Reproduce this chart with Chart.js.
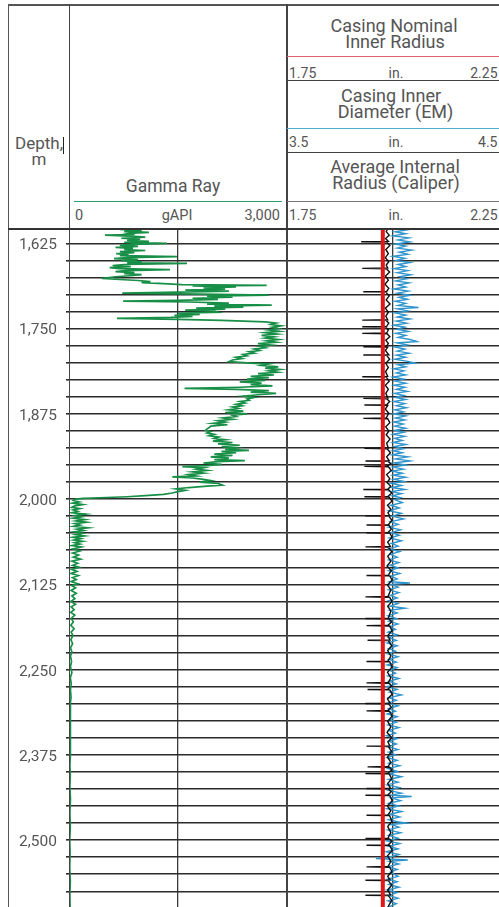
<!DOCTYPE html>
<html>
<head>
<meta charset="utf-8">
<script src="https://cdn.jsdelivr.net/npm/chart.js@4.4.1/dist/chart.umd.min.js"></script>
<style>
  html, body { margin: 0; padding: 0; background: #fff; }
  body { width: 499px; height: 907px; overflow: hidden; position: relative;
         font-family: Roboto, "Liberation Sans", sans-serif; color: #555; }
  .t { position: absolute; white-space: nowrap; line-height: 1; }
  .ln { position: absolute; }
  canvas { position: absolute; display: block; }
</style>
</head>
<body>
<canvas id="gamma" width="279" height="679" style="left:8px;top:228px;"></canvas>
<canvas id="casing" width="212" height="679" style="left:287px;top:228px;"></canvas>
<div id="header"></div>

<script>
// Depth window of the log (m)
const depthTop = 1602.5;
const depthBottom = 2598;
const depthLabels = [1625, 1750, 1875, 2000, 2125, 2250, 2375, 2500];
const depthStep = 25;

// Gamma ray, [depth m, gAPI]
const gammaRay = [
  [1602, 820], [1603, 1150], [1604.5, 700], [1606, 1000], [1607.5, 760], [1609, 1100], [1610.5, 820],
  [1612, 900], [1613, 495], [1614.5, 850], [1616, 1050], [1617.5, 720], [1619, 980], [1620.5, 800],
  [1622, 1100], [1623.5, 760], [1625, 1348], [1626.5, 880], [1628, 700], [1629.5, 950], [1631, 640],
  [1632.5, 880], [1634, 760], [1635.5, 1050], [1637, 700], [1638.5, 900], [1640, 650], [1641.5, 820],
  [1643, 700], [1644.5, 1486], [1646, 800], [1647.5, 620], [1649, 950], [1650.5, 720], [1652, 1000],
  [1653.5, 800], [1654.5, 1624], [1656, 760], [1657.5, 600], [1659, 850], [1660.5, 560], [1662, 700],
  [1663.5, 1390], [1665, 780], [1666.5, 640], [1668, 900], [1669.5, 760], [1671, 1000], [1672.5, 840],
  [1674, 640], [1675.5, 520], [1676.5, 454], [1678, 700], [1679.5, 950], [1681, 1120], [1682.5, 1000],
  [1684, 1300], [1685.5, 1550], [1686.5, 2720], [1687.5, 1700], [1689, 2300], [1690.5, 1850], [1692, 2150],
  [1693.5, 1600], [1695, 2200], [1696.5, 1500], [1698, 733], [1699.5, 1800], [1701, 2750], [1702.5, 1900],
  [1704, 2250], [1705.5, 1700], [1707, 2050], [1708.5, 1500], [1709.6, 745], [1711, 1650], [1712.5, 2200],
  [1714, 1900], [1715.5, 2790], [1717, 2000], [1718.5, 2400], [1720, 1750], [1721.5, 2150], [1723, 1600],
  [1724.5, 2000], [1726, 2050], [1727.5, 1500], [1729, 1800], [1730.5, 1450], [1732, 1700], [1733.5, 1400],
  [1735, 660], [1736.5, 1500], [1738, 2100], [1740, 2700], [1742, 2850], [1744, 2780], [1746, 2920],
  [1748, 2800], [1750, 2880], [1752, 2750], [1754, 2900], [1756, 2700], [1758, 2860], [1760, 2650],
  [1762, 2820], [1764, 2700], [1766, 2880], [1768, 2720], [1770, 2850], [1772, 2600], [1774, 2780],
  [1776, 2620], [1778, 2700], [1780, 2550], [1782, 2620], [1784, 2480], [1786, 2550], [1788, 2400],
  [1790, 2450], [1792, 2300], [1794, 2380], [1796, 2250], [1798.5, 2200], [1800.5, 2500], [1802, 2750],
  [1804, 2650], [1806, 2880], [1808, 2700], [1810, 2900], [1812, 2750], [1814, 2870], [1816, 2600],
  [1818, 2820], [1820, 2500], [1822, 2750], [1824, 2450], [1826, 2700], [1828, 2350], [1830, 2650],
  [1832, 2500], [1834, 2800], [1836, 2350], [1837.6, 1590], [1839, 2300], [1841, 2750], [1843, 2500],
  [1845, 2850], [1847, 2600], [1849, 2400], [1851, 2550], [1853, 2450], [1855, 2480], [1857, 2350],
  [1859, 2420], [1861, 2300], [1863, 2380], [1865, 2250], [1867, 2330], [1869, 2200], [1871, 2400],
  [1873, 2150], [1875, 2450], [1877, 2250], [1879, 2300], [1881, 2120], [1883, 2250], [1885, 2050],
  [1887, 2150], [1889, 1980], [1891, 2180], [1893, 1950], [1895, 1930], [1897, 1900], [1899, 1880],
  [1901, 1950], [1903, 1900], [1905, 2000], [1907, 1930], [1909, 2060], [1911, 2000], [1913, 2150],
  [1915, 1980], [1917, 2250], [1919, 2050], [1921, 2350], [1923, 2100], [1925, 2300], [1927, 2150],
  [1928.5, 2477], [1930, 2100], [1932, 2300], [1934, 2000], [1936, 2250], [1938, 1950], [1940, 2200],
  [1942, 2000], [1943.5, 2420], [1945, 2050], [1947, 1850], [1949, 2100], [1951, 1900], [1952.5, 1560],
  [1954, 1850], [1956, 1750], [1958, 1900], [1960, 1700], [1962, 1850], [1964, 1650], [1966, 1750],
  [1967.5, 1422], [1969, 1700], [1971, 1850], [1973, 1950], [1975, 1800], [1977, 2050], [1979.5, 2110],
  [1981, 1900], [1983, 1650], [1985, 1470], [1987, 1600], [1989, 1500], [1991, 1420], [1993, 1300],
  [1995, 1050], [1996.5, 800], [1998, 420], [1999, 200], [2000, 90], [2002, 60], [2004, 140],
  [2006, 50], [2008, 190], [2010, 80], [2012, 40], [2014, 150], [2016, 60], [2018, 120], [2020, 40],
  [2022, 230], [2024, 90], [2026, 170], [2028, 60], [2030, 220], [2032, 100], [2034, 240], [2036, 80],
  [2038, 150], [2040, 60], [2042, 260], [2044, 110], [2046, 200], [2048, 70], [2050, 180], [2052, 90],
  [2054, 210], [2056, 50], [2058, 160], [2060, 70], [2062, 190], [2064, 80], [2066, 150], [2068, 40],
  [2070, 170], [2073, 60], [2076, 150], [2079, 50], [2082, 130], [2085, 60], [2088, 160], [2091, 40],
  [2094, 120], [2097, 50], [2100, 140], [2103, 40], [2106, 110], [2109, 30], [2112, 130], [2115, 50],
  [2118, 100], [2121, 30], [2124, 120], [2127, 40], [2130, 90], [2134, 30], [2138, 100], [2142, 40],
  [2146, 80], [2150, 25], [2154, 90], [2158, 30], [2162, 70], [2166, 25], [2170, 80], [2175, 30],
  [2180, 60], [2185, 25], [2190, 70], [2195, 30], [2200, 55], [2206, 25], [2212, 50], [2218, 20],
  [2224, 40], [2230, 20], [2238, 35], [2246, 20], [2254, 40], [2262, 18], [2270, 30], [2280, 20],
  [2290, 28], [2300, 18], [2315, 25], [2330, 15], [2345, 22], [2360, 15], [2375, 20], [2390, 12],
  [2405, 18], [2420, 12], [2440, 20], [2460, 12], [2480, 18], [2500, 10], [2520, 15], [2540, 10],
  [2560, 18], [2580, 12], [2598, 15]
];

// Casing nominal inner radius, [depth m, in.]
const nominalRadius = [[1602, 1.976], [2598, 1.976]];

// Casing inner diameter from EM, [depth m, in.]
const emDiameter = [
  [1602.5, 3.972], [1602.9, 3.855], [1603.4, 3.975], [1608, 3.968], [1613, 3.982], [1618, 3.965],
  [1622.2, 3.978], [1622.7, 3.85], [1623.2, 3.97], [1628, 3.985], [1634, 3.966], [1640, 3.978],
  [1646, 3.964], [1652, 3.98], [1657, 3.968], [1661.2, 3.975], [1661.7, 3.855], [1662.2, 3.968],
  [1667, 3.984], [1673, 3.965], [1679, 3.978], [1685, 3.962], [1691, 3.98], [1695.5, 3.97],
  [1696, 3.86], [1696.5, 3.966], [1702, 3.982], [1708, 3.968], [1714, 3.986], [1720, 3.964],
  [1726, 3.978], [1732, 3.966], [1737, 3.975], [1737.5, 3.855], [1738, 3.968], [1742, 3.98],
  [1746.8, 3.97], [1747.3, 3.855], [1747.8, 3.966], [1752, 3.978], [1756.5, 3.97], [1757, 3.855],
  [1757.5, 3.972], [1762, 3.985], [1767, 3.966], [1772, 3.978], [1776.1, 3.968], [1776.6, 3.86],
  [1777.1, 3.975], [1782, 3.964], [1788.3, 3.98], [1788.8, 3.86], [1789.3, 3.97], [1795, 3.984],
  [1801, 3.966], [1807, 3.978], [1813, 3.965], [1820.1, 3.975], [1820.6, 3.855], [1821.1, 3.968],
  [1827, 3.982], [1833, 3.964], [1839, 3.978], [1845, 3.966], [1851.8, 3.976], [1852.3, 3.86],
  [1852.8, 3.97], [1857, 3.984], [1861.6, 3.97], [1862.1, 3.865], [1862.6, 3.975], [1868, 3.964],
  [1874, 3.98], [1881.1, 3.968], [1881.6, 3.86], [1882.1, 3.975], [1888, 3.985], [1894, 3.966],
  [1900, 3.98], [1906, 3.968], [1912, 3.986], [1918, 3.97], [1925.1, 3.978], [1925.6, 3.865],
  [1926.1, 3.972], [1932, 3.988], [1938, 3.97], [1943.5, 3.982], [1944, 3.87], [1944.5, 3.975],
  [1948, 3.99], [1951.5, 3.972], [1952, 3.865], [1952.5, 3.978], [1958, 3.992], [1964, 3.97],
  [1970, 3.985], [1976, 3.972], [1981, 3.99], [1985.5, 3.975], [1986, 3.86], [1986.5, 3.98],
  [1991, 3.994], [1996.1, 3.976], [1996.6, 3.865], [1997.1, 3.982], [2003, 3.995], [2009, 3.974],
  [2015, 3.99], [2020, 3.976], [2024, 3.984], [2024.5, 3.87], [2025, 3.98], [2031, 3.995],
  [2037.5, 3.978], [2038, 3.875], [2038.5, 3.982], [2044, 3.992], [2048.9, 3.976], [2049.4, 3.875],
  [2049.9, 3.985], [2056, 3.996], [2063, 3.975], [2069.5, 3.988], [2070, 3.87], [2070.5, 3.978],
  [2077, 3.994], [2084, 3.975], [2091, 3.99], [2098, 3.972], [2105, 3.992], [2111.5, 3.978],
  [2112, 3.875], [2112.5, 3.985], [2119, 3.996], [2126, 3.974], [2133, 3.99], [2142.8, 3.976],
  [2143.3, 3.87], [2143.8, 3.984], [2150, 3.995], [2157, 3.975], [2164, 3.99], [2174.5, 3.978],
  [2175, 3.87], [2175.5, 3.982], [2180, 3.994], [2185, 3.976], [2185.5, 3.875], [2186, 3.984],
  [2193, 3.996], [2200, 3.975], [2206.5, 3.986], [2207, 3.88], [2207.5, 3.978], [2215, 3.994],
  [2222, 3.975], [2230, 3.99], [2237.5, 3.976], [2238, 3.875], [2238.5, 3.984], [2246, 3.996],
  [2254, 3.974], [2262, 3.99], [2268.9, 3.978], [2269.4, 3.875], [2269.9, 3.982], [2274, 3.994],
  [2278.6, 3.976], [2279.1, 3.88], [2279.6, 3.985], [2286, 3.996], [2293, 3.974], [2299.1, 3.986],
  [2299.6, 3.87], [2300.1, 3.978], [2305, 3.992], [2310, 3.975], [2310.5, 3.875], [2311, 3.984],
  [2318, 3.996], [2326, 3.975], [2334, 3.99], [2342, 3.972], [2350, 3.994], [2356, 3.976],
  [2361.7, 3.985], [2362.2, 3.875], [2362.7, 3.978], [2370, 3.994], [2378, 3.974], [2386, 3.99],
  [2392.1, 3.976], [2392.6, 3.88], [2393.1, 3.984], [2397, 3.995], [2401.8, 3.976], [2402.3, 3.87],
  [2402.8, 3.982], [2410, 3.994], [2417, 3.975], [2423.8, 3.988], [2424.3, 3.875], [2424.8, 3.978],
  [2429, 3.992], [2433.6, 3.976], [2434.1, 3.87], [2434.6, 3.985], [2442, 3.996], [2450, 3.974],
  [2457, 3.99], [2463, 3.976], [2463.5, 3.875], [2464, 3.984], [2472, 3.995], [2480, 3.975],
  [2489, 3.99], [2497.1, 3.976], [2497.6, 3.87], [2498.1, 3.984], [2502, 3.994], [2506.9, 3.978],
  [2507.4, 3.875], [2507.9, 3.985], [2515, 3.996], [2523, 3.974], [2531, 3.99], [2538.7, 3.976],
  [2539.2, 3.875], [2539.7, 3.984], [2546, 3.995], [2553, 3.975], [2558.3, 3.986], [2558.8, 3.87],
  [2559.3, 3.978], [2566, 3.994], [2573, 3.975], [2580.3, 3.988], [2580.8, 3.87], [2581.3, 3.978],
  [2588, 3.994], [2598, 3.976]
];

// Average internal radius from the caliper, [depth m, in.]
const caliperRadius = [
  [1602, 2.01], [1605, 2.035], [1608, 2.005], [1611, 2.03], [1614, 2.0], [1617, 2.038], [1620, 2.012],
  [1623, 2.04], [1626, 2.005], [1629, 2.03], [1632, 2.01], [1635, 2.044], [1638, 2.015], [1641, 2.035],
  [1644, 2.0], [1647, 2.028], [1650, 2.008], [1653, 2.04], [1656, 2.012], [1659, 2.03], [1662, 2.003],
  [1665, 2.035], [1668, 2.01], [1671, 2.042], [1674, 2.016], [1677, 2.032], [1680, 2.006], [1683, 2.038],
  [1686, 2.012], [1689, 2.03], [1692, 2.002], [1695, 2.036], [1698, 2.01], [1701, 2.04], [1704, 2.014],
  [1707, 2.034], [1710, 2.005], [1713, 2.03], [1716, 2.012], [1719, 2.06], [1721, 2.01], [1724, 2.035],
  [1727, 2.005], [1730, 2.03], [1733, 2.01], [1736, 2.04], [1739, 2.008], [1742, 2.032], [1745, 2.002],
  [1748, 2.028], [1751, 2.01], [1754, 2.036], [1757, 2.006], [1760, 2.03], [1763, 2.012], [1766, 2.04],
  [1769, 2.056], [1771, 2.01], [1774, 2.034], [1777, 2.005], [1780, 2.028], [1783, 2.01], [1786, 2.038],
  [1789, 2.008], [1792, 2.03], [1795, 2.004], [1798, 2.035], [1800.5, 2.052], [1803, 2.012], [1806, 2.03],
  [1809, 2.002], [1812, 2.026], [1815, 2.008], [1818, 2.03], [1821, 2.0], [1824, 2.025], [1827, 2.006],
  [1830, 2.03], [1833, 2.003], [1836, 2.028], [1839, 2.008], [1842, 2.034], [1845, 2.004], [1848, 2.026],
  [1851, 2.006], [1854, 2.03], [1857, 2.002], [1860, 2.028], [1863, 2.008], [1866, 2.032], [1869, 2.004],
  [1872, 2.025], [1875, 2.0], [1878, 2.03], [1881, 2.006], [1884, 2.028], [1887, 2.002], [1890, 2.024],
  [1893, 2.004], [1896, 2.03], [1899, 2.006], [1902, 2.026], [1905, 2.0], [1908, 2.028], [1911, 2.004],
  [1914, 2.022], [1917, 2.0], [1920, 2.03], [1923, 2.004], [1926, 2.025], [1929, 2.0], [1932, 2.022],
  [1935, 1.998], [1938, 2.035], [1941, 2.005], [1944, 2.04], [1947, 2.002], [1950, 2.03], [1953, 2.0],
  [1956, 2.025], [1959, 1.998], [1962, 2.022], [1965, 2.0], [1968, 2.03], [1971, 2.002], [1974, 2.026],
  [1977, 1.996], [1980, 2.02], [1983, 1.998], [1986, 2.028], [1989, 1.995], [1992, 2.02], [1995, 1.998],
  [1998, 2.018], [2001, 2.005], [2005, 2.022], [2009, 1.995], [2013, 2.015], [2017, 1.99], [2021, 2.02],
  [2025, 1.998], [2029, 2.025], [2033, 1.994], [2037, 2.012], [2041, 1.99], [2045, 2.018], [2049, 1.996],
  [2053, 2.015], [2057, 1.992], [2061, 2.02], [2065, 1.996], [2069, 2.012], [2073, 1.99], [2077, 2.016],
  [2081, 1.994], [2085, 2.01], [2089, 1.99], [2093, 2.014], [2097, 1.993], [2101, 2.012], [2105, 1.99],
  [2109, 2.016], [2113, 1.995], [2117, 2.01], [2121, 1.992], [2123, 2.04], [2125, 1.996], [2129, 2.012],
  [2133, 1.99], [2137, 2.014], [2141, 1.994], [2145, 2.01], [2149, 1.99], [2153, 2.012], [2157, 1.994],
  [2160, 2.028], [2163, 1.992], [2167, 2.01], [2171, 1.988], [2175, 2.008], [2179, 1.99], [2183, 2.012],
  [2187, 1.992], [2191, 2.006], [2195, 1.988], [2199, 2.01], [2203, 1.99], [2207, 2.008], [2211, 1.986],
  [2215, 2.01], [2219, 1.99], [2223, 2.006], [2227, 1.988], [2231, 2.012], [2235, 1.99], [2239, 2.008],
  [2243, 1.986], [2247, 2.01], [2251, 1.992], [2255, 2.006], [2259, 1.988], [2263, 2.014], [2267, 1.99],
  [2271, 2.008], [2275, 1.986], [2279, 2.01], [2283, 1.992], [2287, 2.02], [2291, 1.99], [2295, 2.008],
  [2299, 1.988], [2303, 2.012], [2307, 1.99], [2311, 2.006], [2315, 1.986], [2319, 2.01], [2323, 1.992],
  [2327, 2.008], [2331, 1.988], [2335, 2.014], [2339, 1.99], [2343, 2.006], [2347, 1.985], [2351, 2.01],
  [2355, 1.99], [2359, 2.008], [2363, 1.988], [2367, 2.012], [2371, 1.99], [2375, 2.006], [2379, 1.986],
  [2383, 2.01], [2387, 1.99], [2391, 2.016], [2395, 1.988], [2399, 2.01], [2403, 1.992], [2407, 2.02],
  [2411, 1.99], [2415, 2.012], [2419, 1.986], [2423, 2.015], [2427, 1.99], [2431, 2.02], [2434, 1.995],
  [2436, 2.044], [2438, 1.996], [2442, 2.018], [2446, 1.99], [2450, 2.014], [2454, 1.986], [2458, 2.02],
  [2462, 1.992], [2466, 2.016], [2470, 1.99], [2473, 2.01], [2475, 2.032], [2477, 1.994], [2481, 2.014],
  [2485, 1.988], [2489, 2.018], [2493, 1.99], [2497, 2.012], [2501, 1.986], [2505, 2.016], [2509, 1.99],
  [2513, 2.012], [2517, 1.984], [2521, 2.014], [2525, 1.99], [2527, 1.96], [2529, 2.035], [2531, 1.992],
  [2535, 2.014], [2539, 1.986], [2543, 2.01], [2547, 1.994], [2553, 2.012], [2557, 1.988], [2561, 2.01],
  [2565, 1.99], [2569, 2.014], [2573, 1.986], [2577, 2.01], [2581, 1.99], [2585, 2.012], [2589, 1.988],
  [2593, 2.008], [2598, 1.99]
];

// ---- header: titles, units and scale lines ----
const header = document.getElementById('header');
function text(str, x, baseline, size, align) {
  const d = document.createElement('div');
  d.className = 't';
  d.textContent = str;
  d.style.fontSize = size + 'px';
  d.style.top = (baseline - 0.842 * size) + 'px';
  if (align === 'l') d.style.left = x + 'px';
  else if (align === 'r') d.style.right = (499 - x) + 'px';
  else { d.style.left = x + 'px'; d.style.transform = 'translateX(-50%)'; }
  header.appendChild(d);
}
function rule(x, y, w, h, color) {
  const d = document.createElement('div');
  d.className = 'ln';
  Object.assign(d.style, { left: x + 'px', top: y + 'px', width: w + 'px', height: h + 'px', background: color });
  header.appendChild(d);
}

text('Depth,', 39, 149, 17, 'c');
text('m', 39, 165, 17, 'c');
text('Gamma Ray', 173, 192.5, 17.5, 'c');
text('0', 75, 221, 14.5, 'l');
text('gAPI', 177, 221, 14.5, 'c');
text('3,000', 280, 221, 14.5, 'r');

text('Casing Nominal', 394, 31.7, 18, 'c');
text('Inner Radius', 395, 48.3, 18, 'c');
text('1.75', 289, 77.3, 14, 'l');
text('in.', 396, 77.3, 14, 'c');
text('2.25', 497.5, 77.3, 14, 'r');
text('Casing Inner', 391, 101.7, 18, 'c');
text('Diameter (EM)', 395.5, 118.5, 18, 'c');
text('3.5', 289, 146.7, 14, 'l');
text('in.', 396, 146.7, 14, 'c');
text('4.5', 497.5, 146.7, 14, 'r');
text('Average Internal', 395, 173.3, 18, 'c');
text('Radius (Caliper)', 396, 189.5, 18, 'c');
text('1.75', 289, 220, 14, 'l');
text('in.', 396, 220, 14, 'c');
text('2.25', 497.5, 220, 14, 'r');

// frame
rule(8, 4, 491, 1.5, '#555');
rule(7.5, 4, 1.5, 903, '#555');
rule(68.5, 4, 1.5, 903, '#444');
rule(286, 4, 1.5, 903, '#444');
rule(8, 227.5, 491, 2, '#333');
rule(287, 79.5, 212, 1.5, '#444');
rule(287, 151.5, 212, 1.5, '#444');
rule(62.5, 137, 1.3, 17, '#222');
// curve keys
rule(74, 200.5, 208, 1.5, '#2f9f72');
rule(287, 55.5, 212, 1.5, '#e0606b');
rule(287, 127.5, 212, 1.5, '#4aaed0');
rule(287, 200.5, 212, 1.5, '#777');

// ---- shared depth axis ----
const gridDepths = [];
for (let d = depthLabels[0]; d < depthBottom; d += depthStep) gridDepths.push(d);

function depthAxis(withLabels) {
  return {
    type: 'linear', reverse: true, min: depthTop, max: depthBottom,
    afterBuildTicks: s => { s.ticks = gridDepths.map(v => ({ value: v })); },
    afterFit: s => {
      s.width = withLabels ? 61 : 0;
      s.paddingTop = 0; s.paddingBottom = 0;
    },
    ticks: {
      display: withLabels, autoSkip: false, padding: 9, labelOffset: 2,
      color: '#555', font: { family: 'Roboto', size: 15.5 },
      callback: v => depthLabels.includes(v) ? v.toLocaleString('en-US') : ''
    },
    grid: { color: '#2b2b2b', lineWidth: 1.6, tickLength: 3, drawTicks: withLabels },
    border: { display: false }
  };
}
function centreLine(min, max) {
  return {
    type: 'linear', position: 'top', min, max,
    afterBuildTicks: s => { s.ticks = [{ value: (min + max) / 2 }]; },
    afterFit: s => { s.height = 0; s.paddingLeft = 0; s.paddingRight = 0; },
    ticks: { display: false },
    grid: { color: '#3a3a3a', lineWidth: 1.3, drawTicks: false },
    border: { display: false }
  };
}
const pts = arr => arr.map(([d, v]) => ({ x: v, y: d }));
const curve = (data, color, width, axis) => ({
  data: pts(data), xAxisID: axis, yAxisID: 'y', borderColor: color, borderWidth: width,
  showLine: true, pointRadius: 0, fill: false, tension: 0
});
const common = {
  responsive: false, animation: false, events: [],
  layout: { padding: 0, autoPadding: false },
  plugins: { legend: { display: false }, tooltip: { enabled: false } }
};

new Chart(document.getElementById('gamma'), {
  type: 'scatter',
  data: { datasets: [curve(gammaRay, '#178f47', 1.7, 'x')] },
  options: { ...common, scales: { x: centreLine(0, 3000), y: depthAxis(true) } }
});

new Chart(document.getElementById('casing'), {
  type: 'scatter',
  data: {
    datasets: [
      curve(nominalRadius, '#e3161c', 4, 'xNom'),
      curve(emDiameter, '#111111', 1.4, 'xEM'),
      curve(caliperRadius, '#3095cc', 1.4, 'xCal')
    ]
  },
  options: {
    ...common,
    scales: {
      xCal: centreLine(1.75, 2.25),
      xNom: { type: 'linear', display: false, min: 1.75, max: 2.25 },
      xEM: { type: 'linear', display: false, min: 3.5, max: 4.5 },
      y: depthAxis(false)
    }
  }
});
</script>
</body>
</html>
